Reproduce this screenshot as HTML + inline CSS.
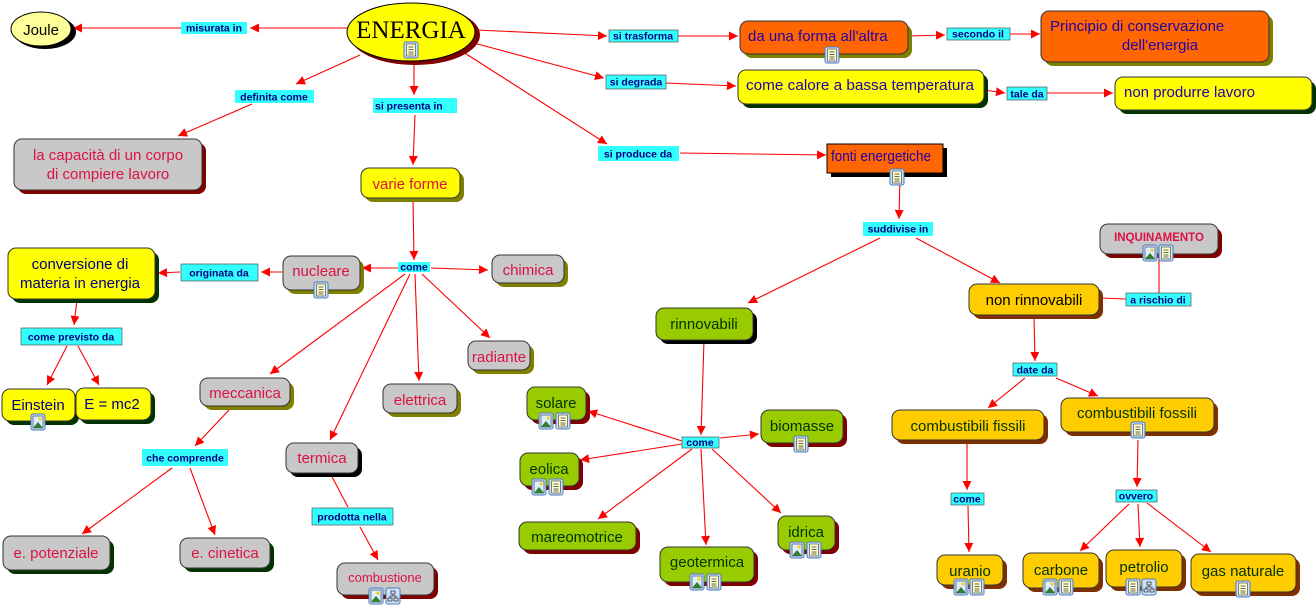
<!DOCTYPE html>
<html><head><meta charset="utf-8"><style>
html,body{margin:0;padding:0;background:#fff;width:1316px;height:606px;overflow:hidden}
svg{display:block}
.n{font-family:"Liberation Sans",sans-serif;font-size:15px}
.l{font-family:"Liberation Sans",sans-serif;font-size:10.5px;font-weight:bold;fill:#000080}
</style></head><body>
<svg width="1316" height="606" viewBox="0 0 1316 606" xmlns="http://www.w3.org/2000/svg">
<defs>
<marker id="a" viewBox="0 0 10 10" refX="10" refY="5" markerWidth="11" markerHeight="9" markerUnits="userSpaceOnUse" orient="auto"><path d="M0,0L10,5L0,10z" fill="#f00"/></marker>
<g id="doc"><rect x="0" y="0" width="14" height="16" rx="2" fill="#cfe3ff" stroke="#4a7ab8"/><rect x="2.5" y="2" width="9" height="12" fill="#ffffcc" stroke="#333" stroke-width=".6"/><path d="M4.5 5h5M4.5 7.5h5M4.5 10h5M4.5 12h5" stroke="#333" stroke-width=".8"/></g>
<g id="img"><rect x="0" y="0" width="14" height="16" rx="2" fill="#cfe3ff" stroke="#4a7ab8"/><rect x="2" y="2" width="10" height="12" fill="#ddeeff" stroke="#333" stroke-width=".6"/><path d="M2 14L7 8L12 14z" fill="#2e7d32"/><circle cx="9" cy="5" r="1.5" fill="#fc0"/></g>
<g id="map"><rect x="0" y="0" width="14" height="16" rx="2" fill="#cfe3ff" stroke="#4a7ab8"/><path d="M5 3h4v3H5zM2 10h4v3H2zM8 10h4v3H8zM7 6v2M4 8h6v2M4 8v2" fill="none" stroke="#333" stroke-width=".8"/></g>
</defs>

<g stroke="#f00" stroke-width="1.1" fill="none" marker-end="url(#a)">
<path d="M347 28L250 28"/><path d="M181 28L73 28"/>
<path d="M360 55L296 84"/><path d="M252 104L178 136"/>
<path d="M414 62L414 95"/><path d="M415 115L413 165"/>
<path d="M476 30L607 36"/><path d="M678 36L738 36"/>
<path d="M908 36L945 35"/><path d="M1010 34L1040 34"/>
<path d="M470 42L604 78"/><path d="M666 83L736 86"/>
<path d="M984 90L1005 93"/><path d="M1047 93L1113 93"/>
<path d="M460 50L607 144"/><path d="M680 153L826 155"/>
<path d="M900 175L899 219"/><path d="M880 238L748 303"/><path d="M916 238L1000 283"/>
<path d="M1159 293L1159 247"/>
<path d="M1034 316L1035 361"/><path d="M1025 378L988 408"/><path d="M1056 378L1098 396"/>
<path d="M967 442L967 490"/><path d="M968 506L969 552"/>
<path d="M1138 440L1137 487"/><path d="M1129 504L1080 551"/><path d="M1138 504L1140 547"/><path d="M1147 503L1211 552"/>
<path d="M704 340L701 435"/><path d="M682 441L588 411"/><path d="M682 444L580 460"/><path d="M692 449L598 519"/><path d="M701 449L706 545"/><path d="M712 449L781 513"/><path d="M720 438L759 434"/>
<path d="M413 198L414 260"/><path d="M398 268L362 268"/><path d="M431 268L488 270"/><path d="M405 274L270 374"/><path d="M410 274L330 440"/><path d="M415 274L419 381"/><path d="M422 274L490 338"/>
<path d="M282 272L261 272"/><path d="M180 272L158 273"/>
<path d="M77 300L74 325"/><path d="M67 346L47 385"/><path d="M78 346L99 385"/>
<path d="M229 410L195 446"/><path d="M172 468L82 534"/><path d="M190 468L215 535"/>
<path d="M360 527L378 560"/>
</g>
<g stroke="#f00" stroke-width="1.1" fill="none"><path d="M1100 298L1126 299"/><path d="M330 473L348 507"/></g>

<ellipse cx="45" cy="32" rx="31" ry="17" fill="#000"/><ellipse cx="41" cy="29" rx="30" ry="17" fill="#ffff99" stroke="#000"/>
<text x="41" y="35" class="n" font-size="17" text-anchor="middle" fill="#000">Joule</text>
<ellipse cx="415" cy="35" rx="65" ry="30" fill="#800000"/><ellipse cx="411" cy="32" rx="64" ry="29" fill="#ffff00" stroke="#000"/>
<text x="411" y="38" font-family="Liberation Serif,serif" font-size="25" text-anchor="middle" fill="#000">ENERGIA</text>
<use href="#doc" x="404" y="42"/>

<g stroke="#333" stroke-width="1">
<rect x="18" y="143" width="188" height="51" rx="8" fill="#800000" stroke="none"/><rect x="14" y="139" width="188" height="51" rx="8" fill="#c8c8c8"/>
<rect x="365" y="172" width="99" height="30" rx="8" fill="#808000" stroke="none"/><rect x="361" y="168" width="99" height="30" rx="8" fill="#ffff00"/>
<rect x="744" y="25" width="168" height="33" rx="8" fill="#808000" stroke="none"/><rect x="740" y="21" width="168" height="33" rx="8" fill="#ff6600"/>
<rect x="1045" y="15" width="228" height="51" rx="8" fill="#808000" stroke="none"/><rect x="1041" y="11" width="228" height="51" rx="8" fill="#ff6600"/>
<rect x="742" y="74" width="246" height="34" rx="8" fill="#003300" stroke="none"/><rect x="738" y="70" width="246" height="34" rx="8" fill="#ffff00"/>
<rect x="1119" y="81" width="197" height="33" rx="8" fill="#003300" stroke="none"/><rect x="1115" y="77" width="197" height="33" rx="8" fill="#ffff00"/>
<rect x="831" y="148" width="116" height="29" fill="#000" stroke="none"/><rect x="827" y="144" width="116" height="29" fill="#ff6600" stroke="#000"/>
<rect x="1104" y="228" width="118" height="30" rx="8" fill="#800000" stroke="none"/><rect x="1100" y="224" width="118" height="30" rx="8" fill="#c8c8c8"/>
<rect x="973" y="288" width="130" height="31" rx="8" fill="#803000" stroke="none"/><rect x="969" y="284" width="130" height="31" rx="8" fill="#ffcc00"/>
<rect x="660" y="312" width="97" height="32" rx="8" fill="#000" stroke="none"/><rect x="656" y="308" width="97" height="32" rx="8" fill="#99cc00"/>
<rect x="896" y="414" width="152" height="30" rx="8" fill="#803000" stroke="none"/><rect x="892" y="410" width="152" height="30" rx="8" fill="#ffcc00"/>
<rect x="1065" y="402" width="153" height="34" rx="8" fill="#803000" stroke="none"/><rect x="1061" y="398" width="153" height="34" rx="8" fill="#ffcc00"/>
<rect x="941" y="559" width="66" height="30" rx="8" fill="#803000" stroke="none"/><rect x="937" y="555" width="66" height="30" rx="8" fill="#ffcc00"/>
<rect x="1027" y="557" width="76" height="35" rx="8" fill="#803000" stroke="none"/><rect x="1023" y="553" width="76" height="35" rx="8" fill="#ffcc00"/>
<rect x="1110" y="554" width="76" height="37" rx="8" fill="#803000" stroke="none"/><rect x="1106" y="550" width="76" height="37" rx="8" fill="#ffcc00"/>
<rect x="1195" y="558" width="105" height="38" rx="8" fill="#803000" stroke="none"/><rect x="1191" y="554" width="105" height="38" rx="8" fill="#ffcc00"/>
<rect x="531" y="391" width="59" height="33" rx="8" fill="#800000" stroke="none"/><rect x="527" y="387" width="59" height="33" rx="8" fill="#99cc00"/>
<rect x="765" y="414" width="82" height="33" rx="8" fill="#800000" stroke="none"/><rect x="761" y="410" width="82" height="33" rx="8" fill="#99cc00"/>
<rect x="524" y="457" width="59" height="33" rx="8" fill="#800000" stroke="none"/><rect x="520" y="453" width="59" height="33" rx="8" fill="#99cc00"/>
<rect x="523" y="526" width="117" height="28" rx="8" fill="#800000" stroke="none"/><rect x="519" y="522" width="117" height="28" rx="8" fill="#99cc00"/>
<rect x="664" y="551" width="94" height="35" rx="8" fill="#800000" stroke="none"/><rect x="660" y="547" width="94" height="35" rx="8" fill="#99cc00"/>
<rect x="782" y="520" width="57" height="34" rx="8" fill="#800000" stroke="none"/><rect x="778" y="516" width="57" height="34" rx="8" fill="#99cc00"/>
<rect x="287" y="260" width="77" height="34" rx="8" fill="#808000" stroke="none"/><rect x="283" y="256" width="77" height="34" rx="8" fill="#c8c8c8"/>
<rect x="496" y="259" width="72" height="28" rx="8" fill="#808000" stroke="none"/><rect x="492" y="255" width="72" height="28" rx="8" fill="#c8c8c8"/>
<rect x="472" y="345" width="62" height="29" rx="8" fill="#808000" stroke="none"/><rect x="468" y="341" width="62" height="29" rx="8" fill="#c8c8c8"/>
<rect x="387" y="388" width="74" height="29" rx="8" fill="#808000" stroke="none"/><rect x="383" y="384" width="74" height="29" rx="8" fill="#c8c8c8"/>
<rect x="204" y="382" width="90" height="28" rx="8" fill="#808000" stroke="none"/><rect x="200" y="378" width="90" height="28" rx="8" fill="#c8c8c8"/>
<rect x="290" y="447" width="72" height="30" rx="8" fill="#000" stroke="none"/><rect x="286" y="443" width="72" height="30" rx="8" fill="#c8c8c8"/>
<rect x="341" y="567" width="97" height="32" rx="8" fill="#800000" stroke="none"/><rect x="337" y="563" width="97" height="32" rx="8" fill="#c8c8c8"/>
<rect x="12" y="252" width="147" height="51" rx="8" fill="#003300" stroke="none"/><rect x="8" y="248" width="147" height="51" rx="8" fill="#ffff00"/>
<rect x="6" y="393" width="73" height="32" rx="8" fill="#003300" stroke="none"/><rect x="2" y="389" width="73" height="32" rx="8" fill="#ffff00"/>
<rect x="80" y="392" width="75" height="32" rx="8" fill="#003300" stroke="none"/><rect x="76" y="388" width="75" height="32" rx="8" fill="#ffff00"/>
<rect x="7" y="540" width="107" height="34" rx="8" fill="#003300" stroke="none"/><rect x="3" y="536" width="107" height="34" rx="8" fill="#c8c8c8"/>
<rect x="184" y="542" width="90" height="30" rx="8" fill="#003300" stroke="none"/><rect x="180" y="538" width="90" height="30" rx="8" fill="#c8c8c8"/>
</g>

<g class="n">
<text x="108" y="160" text-anchor="middle" fill="#dd1144">la capacità di un  corpo</text>
<text x="108" y="179" text-anchor="middle" fill="#dd1144">di compiere lavoro</text>
<text x="410" y="189" text-anchor="middle" fill="#dd1144">varie forme</text>
<text x="748" y="41" fill="#2200aa">da una forma all'altra</text>
<text x="1050" y="31" fill="#2200aa">Principio di conservazione</text>
<text x="1160" y="50" text-anchor="middle" fill="#2200aa">dell'energia</text>
<text x="746" y="90" fill="#2200aa" textLength="228" lengthAdjust="spacingAndGlyphs">come calore a bassa temperatura</text>
<text x="1124" y="97" fill="#2200aa">non produrre lavoro</text>
<text x="831" y="161" fill="#2200aa" textLength="100" lengthAdjust="spacingAndGlyphs">fonti energetiche</text>
<text x="1159" y="241" text-anchor="middle" font-size="11.5" font-weight="bold" fill="#dd1144">INQUINAMENTO</text>
<text x="1034" y="305" text-anchor="middle" fill="#000">non rinnovabili</text>
<text x="704" y="329" text-anchor="middle" fill="#003300">rinnovabili</text>
<text x="968" y="431" text-anchor="middle" fill="#003300">combustibili fissili</text>
<text x="1137" y="418" text-anchor="middle" fill="#003300">combustibili fossili</text>
<text x="970" y="576" text-anchor="middle" fill="#003300">uranio</text>
<text x="1061" y="575" text-anchor="middle" fill="#003300">carbone</text>
<text x="1144" y="572" text-anchor="middle" fill="#003300">petrolio</text>
<text x="1243" y="576" text-anchor="middle" fill="#003300">gas naturale</text>
<text x="556" y="408" text-anchor="middle" fill="#003300">solare</text>
<text x="802" y="431" text-anchor="middle" fill="#003300">biomasse</text>
<text x="549" y="474" text-anchor="middle" fill="#003300">eolica</text>
<text x="577" y="542" text-anchor="middle" fill="#003300">mareomotrice</text>
<text x="707" y="567" text-anchor="middle" fill="#003300">geotermica</text>
<text x="806" y="537" text-anchor="middle" fill="#003300">idrica</text>
<text x="321" y="276" text-anchor="middle" fill="#dd1144">nucleare</text>
<text x="528" y="275" text-anchor="middle" fill="#dd1144">chimica</text>
<text x="499" y="362" text-anchor="middle" fill="#dd1144">radiante</text>
<text x="420" y="405" text-anchor="middle" fill="#dd1144">elettrica</text>
<text x="245" y="398" text-anchor="middle" fill="#dd1144">meccanica</text>
<text x="322" y="463" text-anchor="middle" fill="#dd1144">termica</text>
<text x="385" y="582" text-anchor="middle" font-size="13" fill="#dd1144">combustione</text>
<text x="80" y="269" text-anchor="middle" fill="#000080">conversione di</text>
<text x="80" y="288" text-anchor="middle" fill="#000080">materia in energia</text>
<text x="38" y="410" text-anchor="middle" fill="#000080">Einstein</text>
<text x="112" y="409" text-anchor="middle" fill="#000080">E = mc2</text>
<text x="56" y="558" text-anchor="middle" fill="#dd1144">e. potenziale</text>
<text x="225" y="558" text-anchor="middle" fill="#dd1144">e. cinetica</text>
</g>

<use href="#doc" x="825" y="47"/><use href="#doc" x="890" y="169"/>
<use href="#img" x="1143" y="245"/><use href="#doc" x="1159" y="245"/>
<use href="#doc" x="1131" y="422"/>
<use href="#img" x="954" y="579"/><use href="#doc" x="970" y="579"/>
<use href="#img" x="1043" y="579"/><use href="#doc" x="1059" y="579"/>
<use href="#doc" x="1126" y="579"/><use href="#map" x="1142" y="579"/>
<use href="#doc" x="1236" y="581"/>
<use href="#img" x="539" y="413"/><use href="#doc" x="556" y="413"/>
<use href="#doc" x="794" y="436"/>
<use href="#img" x="532" y="479"/><use href="#doc" x="549" y="479"/>
<use href="#img" x="690" y="574"/><use href="#doc" x="707" y="574"/>
<use href="#img" x="790" y="542"/><use href="#doc" x="807" y="542"/>
<use href="#doc" x="314" y="282"/>
<use href="#img" x="31" y="414"/>
<use href="#img" x="369" y="588"/><use href="#map" x="386" y="588"/>

<g>
<rect x="181" y="22" width="66" height="12" fill="#33ffff"/><text x="214" y="31.5" class="l" text-anchor="middle">misurata in</text>
<rect x="235" y="90" width="79" height="13" fill="#33ffff"/><text x="274" y="100.5" class="l" text-anchor="middle">definita come</text>
<rect x="373" y="98" width="84" height="15" fill="#33ffff"/><text x="375" y="109.5" class="l">si presenta in</text>
<rect x="609" y="30" width="69" height="12" fill="#33ffff" stroke="#555" stroke-width=".7"/><text x="643" y="39.5" class="l" text-anchor="middle">si trasforma</text>
<rect x="947" y="28" width="63" height="12" fill="#33ffff" stroke="#555" stroke-width=".7"/><text x="978" y="37.5" class="l" text-anchor="middle">secondo il</text>
<rect x="606" y="75" width="60" height="14" fill="#33ffff" stroke="#555" stroke-width=".7"/><text x="636" y="85.5" class="l" text-anchor="middle">si degrada</text>
<rect x="1007" y="87" width="40" height="13" fill="#33ffff" stroke="#555" stroke-width=".7"/><text x="1027" y="97.5" class="l" text-anchor="middle">tale da</text>
<rect x="598" y="146" width="81" height="15" fill="#33ffff"/><text x="638" y="157.5" class="l" text-anchor="middle">si produce da</text>
<rect x="863" y="222" width="70" height="14" fill="#33ffff"/><text x="898" y="232.5" class="l" text-anchor="middle">suddivise in</text>
<rect x="1126" y="293" width="65" height="13" fill="#33ffff" stroke="#555" stroke-width=".7"/><text x="1158" y="303.5" class="l" text-anchor="middle">a rischio di</text>
<rect x="1013" y="363" width="44" height="13" fill="#33ffff" stroke="#555" stroke-width=".7"/><text x="1035" y="373.5" class="l" text-anchor="middle">date da</text>
<rect x="951" y="493" width="33" height="12" fill="#33ffff" stroke="#555" stroke-width=".7"/><text x="967" y="502.5" class="l" text-anchor="middle">come</text>
<rect x="1116" y="490" width="41" height="12" fill="#33ffff" stroke="#555" stroke-width=".7"/><text x="1136" y="499.5" class="l" text-anchor="middle">ovvero</text>
<rect x="682" y="437" width="37" height="11" fill="#33ffff" stroke="#555" stroke-width=".7"/><text x="700" y="446" class="l" text-anchor="middle">come</text>
<rect x="398" y="262" width="32" height="10" fill="#33ffff"/><text x="414" y="270.5" class="l" text-anchor="middle">come</text>
<rect x="181" y="264" width="77" height="17" fill="#33ffff" stroke="#555" stroke-width=".7"/><text x="219" y="276.5" class="l" text-anchor="middle">originata da</text>
<rect x="21" y="328" width="101" height="17" fill="#33ffff" stroke="#555" stroke-width=".7"/><text x="71" y="340.5" class="l" text-anchor="middle">come previsto da</text>
<rect x="142" y="449" width="86" height="17" fill="#33ffff"/><text x="185" y="461.5" class="l" text-anchor="middle">che comprende</text>
<rect x="312" y="508" width="81" height="17" fill="#33ffff" stroke="#555" stroke-width=".7"/><text x="352" y="520.5" class="l" text-anchor="middle">prodotta nella</text>
</g>
</svg>
</body></html>
